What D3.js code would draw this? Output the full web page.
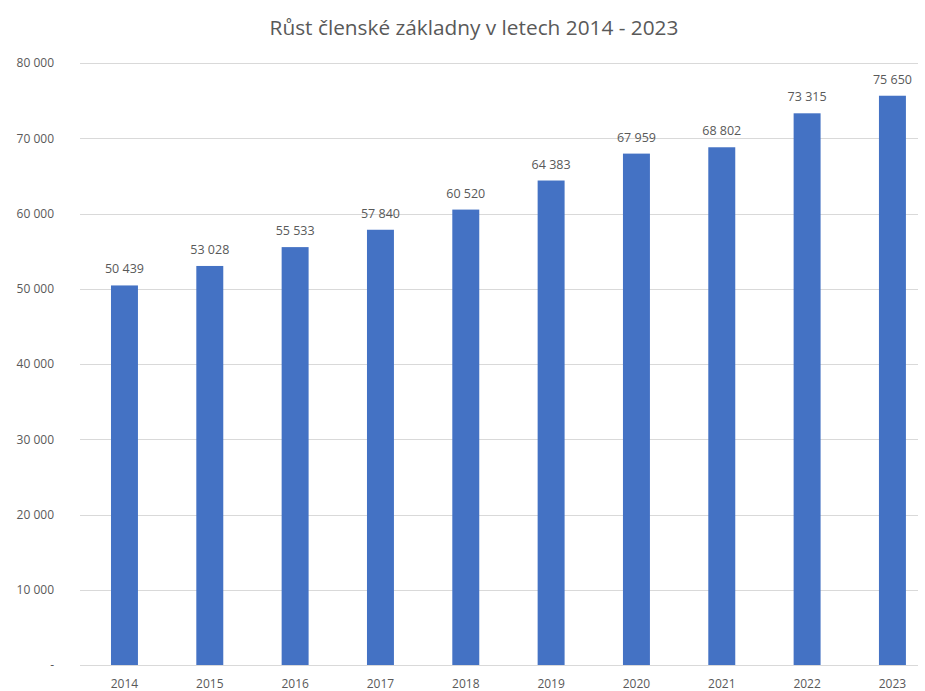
<!DOCTYPE html>
<html><head><meta charset="utf-8">
<script src="https://cdn.jsdelivr.net/npm/d3@7"></script>
<style>body{margin:0;background:#fff}svg{display:block}text{font-family:"Open Sans",sans-serif;fill:#595959}</style>
</head><body>
<script>
const years = ["2014","2015","2016","2017","2018","2019","2020","2021","2022","2023"];
const members = [50439,53028,55533,57840,60520,64383,67959,68802,73315,75650];
const yTicks = [0,10000,20000,30000,40000,50000,60000,70000,80000];
const title = "Růst členské základny v letech 2014 - 2023";

const W=925,H=691;
const svg=d3.select("body").append("svg").attr("width",W).attr("height",H);
const x=d3.scaleBand().domain(years).range([81.8,935.1]).paddingInner(0.684).paddingOuter(0.342);
const y=d3.scaleLinear().domain([0,80000]).range([665,63]);
const fmt=v=> v===0?"-":d3.format(",")(v).replace(/,/g," ");

svg.append("text").attr("x",474).attr("y",35).attr("text-anchor","middle").style("font-size","20.8px").text(title);

const g=svg.append("g");
g.selectAll("line.grid").data(yTicks).join("line").attr("class","grid")
 .attr("x1",80).attr("x2",918).attr("y1",d=>Math.round(y(d))+0.5).attr("y2",d=>Math.round(y(d))+0.5)
 .attr("stroke","#d9d9d9").attr("stroke-width",1);

const yAxis=svg.append("g").attr("transform","translate(60,0)").call(d3.axisLeft(y).tickValues(yTicks).tickFormat(fmt).tickSize(0).tickPadding(6));
yAxis.select(".domain").remove();
yAxis.selectAll("text").style("font-size","12px").style("font-family","'Open Sans',sans-serif").attr("fill","#595959");

svg.selectAll("rect.bar").data(years).join("rect").attr("class","bar")
 .attr("x",d=>x(d)).attr("width",x.bandwidth())
 .attr("y",(d,i)=>y(members[i])).attr("height",(d,i)=>y(0)-y(members[i]))
 .attr("fill","#4472C4");

svg.selectAll("text.lbl").data(years).join("text").attr("class","lbl")
 .attr("x",d=>x(d)+x.bandwidth()/2).attr("y",(d,i)=>y(members[i])-12)
 .attr("text-anchor","middle").style("font-size","12.5px").text((d,i)=>fmt(members[i]));

const xAxis=svg.append("g").attr("transform","translate(0,665)").call(d3.axisBottom(x).tickSize(0).tickPadding(14));
xAxis.select(".domain").remove();
xAxis.selectAll("text").style("font-size","12px").style("font-family","'Open Sans',sans-serif").attr("fill","#595959");
</script>
</body></html>
